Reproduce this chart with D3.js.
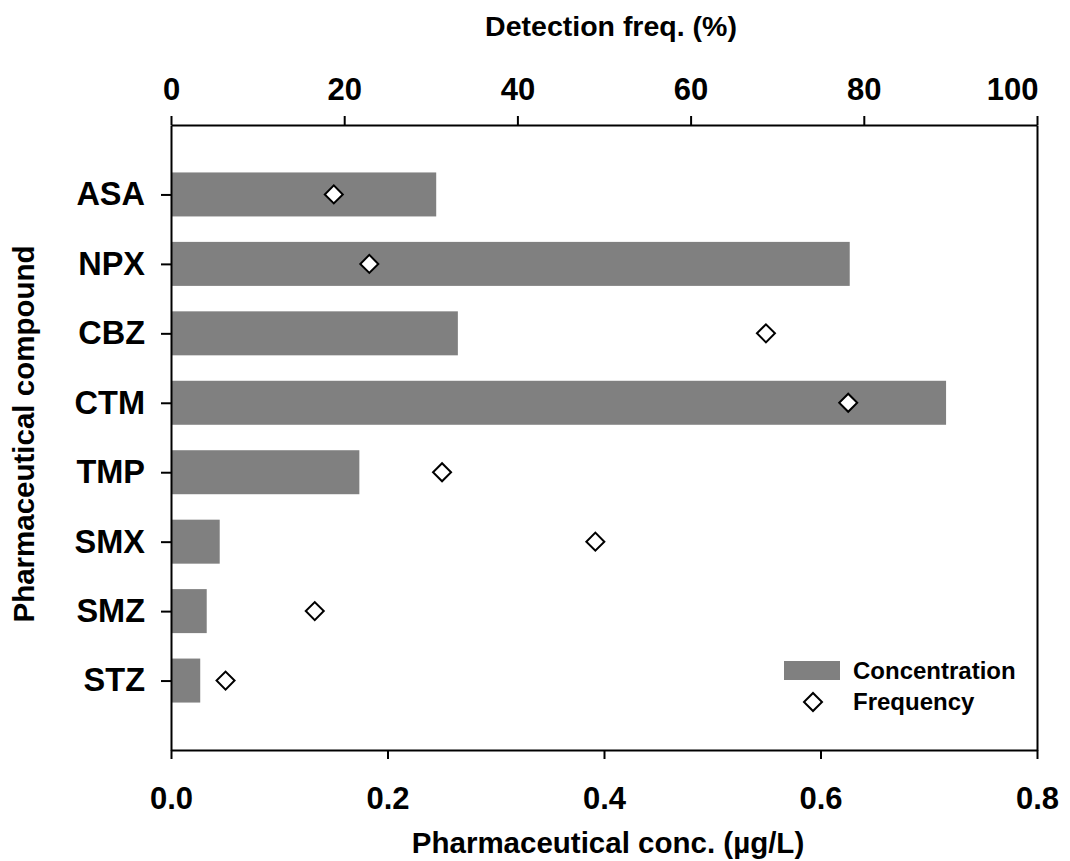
<!DOCTYPE html>
<html>
<head>
<meta charset="utf-8">
<script src="https://cdn.jsdelivr.net/npm/d3@7"></script>
<style>
  body { margin: 0; background: #fff; }
  svg { font-family: "Liberation Sans", Arial, sans-serif; font-weight: bold; }
  .axis path, .axis line { stroke: #000; stroke-width: 2; }
  .axis text { fill: #000; font-size: 31px; font-family: "Liberation Sans", Arial, sans-serif; font-weight: bold; }
  .axis.cat text { font-size: 32.5px; }
</style>
</head>
<body>
<script>
// data
let compounds = ['ASA', 'NPX', 'CBZ', 'CTM', 'TMP', 'SMX', 'SMZ', 'STZ'];
let concentration = [0.245, 0.627, 0.265, 0.716, 0.174, 0.045, 0.033, 0.027];
let frequency = [18.8, 22.9, 68.7, 78.2, 31.3, 49.0, 16.6, 6.3];
let concTicks = [0.0, 0.2, 0.4, 0.6, 0.8];
let freqTicks = [0, 20, 40, 60, 80, 100];

let margin = {left: 171, top: 125, right: 33, bottom: 111};
let width = 1070 - margin.left - margin.right;
let height = 861 - margin.top - margin.bottom;

let svg = d3.select('body').append('svg')
  .attr('width', 1070)
  .attr('height', 861);

let g = svg.append('g')
  .attr('transform', 'translate(' + margin.left + ',' + margin.top + ')');

let x = d3.scaleLinear().domain([0, 0.8]).range([0, width]);
let xTop = d3.scaleLinear().domain([0, 100]).range([0, width]);
let y = d3.scalePoint().domain(compounds).range([0, height]).padding(1);

let barH = 44;

// bars
g.selectAll('.bar')
  .data(compounds)
  .enter().append('rect')
  .attr('class', 'bar')
  .attr('x', 0)
  .attr('y', d => y(d) - barH / 2)
  .attr('width', (d, i) => x(concentration[i]))
  .attr('height', barH)
  .attr('fill', '#808080');

// axes
g.append('g')
  .attr('class', 'axis')
  .attr('transform', 'translate(0,' + height + ')')
  .call(d3.axisBottom(x).tickValues(concTicks).tickFormat(d3.format('.1f'))
    .tickSize(9).tickSizeOuter(0).tickPadding(28));

let topAxis = g.append('g')
  .attr('class', 'axis')
  .call(d3.axisTop(xTop).tickValues(freqTicks).tickFormat(d3.format('d'))
    .tickSize(9).tickSizeOuter(0).tickPadding(16));
// last label sits flush with the right edge
topAxis.selectAll('.tick text')
  .filter(d => d === 100)
  .attr('text-anchor', 'end')
  .attr('x', 1);

g.append('g')
  .attr('class', 'axis cat')
  .call(d3.axisLeft(y).tickSize(10).tickSizeOuter(0).tickPadding(16));

g.append('g')
  .attr('class', 'axis')
  .attr('transform', 'translate(' + width + ',0)')
  .call(d3.axisRight(y).tickValues([]).tickSizeOuter(0));

// frequency markers
let diamond = d3.symbol().type(d3.symbolSquare).size(162);
g.selectAll('.freq')
  .data(compounds)
  .enter().append('path')
  .attr('class', 'freq')
  .attr('d', diamond)
  .attr('transform', (d, i) => 'translate(' + xTop(frequency[i]) + ',' + y(d) + ') rotate(45)')
  .attr('fill', '#fff')
  .attr('stroke', '#000')
  .attr('stroke-width', 2);

// axis titles
svg.append('text')
  .attr('x', 611).attr('y', 36)
  .attr('text-anchor', 'middle')
  .style('font-size', '28.5px')
  .text('Detection freq. (%)');

svg.append('text')
  .attr('x', 608).attr('y', 853)
  .attr('text-anchor', 'middle')
  .style('font-size', '29.5px')
  .text('Pharmaceutical conc. (µg/L)');

svg.append('text')
  .attr('transform', 'translate(34,434) rotate(-90)')
  .attr('text-anchor', 'middle')
  .style('font-size', '29.5px')
  .text('Pharmaceutical compound');

// legend
let lg = svg.append('g').attr('transform', 'translate(784,661)');
lg.append('rect')
  .attr('width', 56).attr('height', 19)
  .attr('fill', '#808080');
lg.append('text')
  .attr('x', 69).attr('y', 18)
  .style('font-size', '24px')
  .text('Concentration');
lg.append('path')
  .attr('d', diamond)
  .attr('transform', 'translate(29,41) rotate(45)')
  .attr('fill', '#fff')
  .attr('stroke', '#000')
  .attr('stroke-width', 2);
lg.append('text')
  .attr('x', 69).attr('y', 49)
  .style('font-size', '24px')
  .text('Frequency');
</script>
</body>
</html>
